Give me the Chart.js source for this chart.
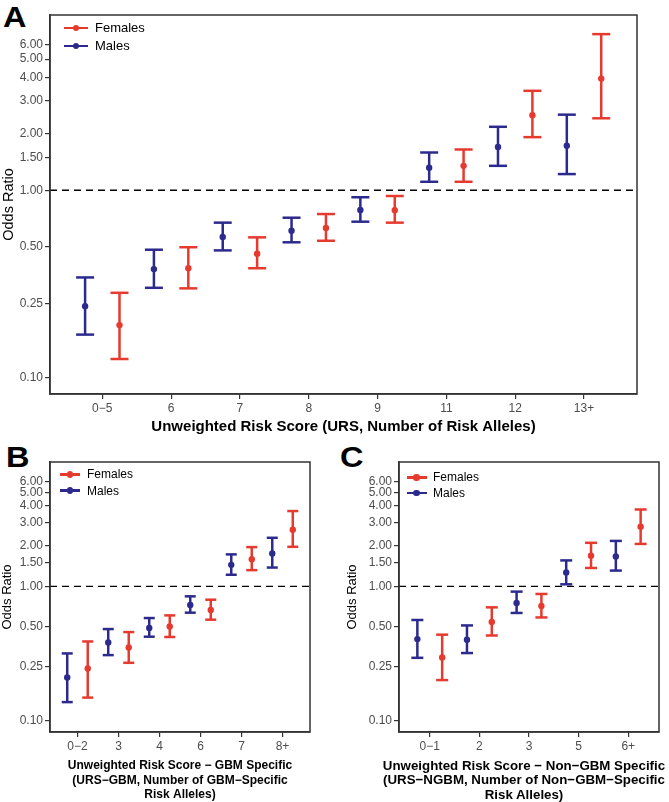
<!DOCTYPE html>
<html>
<head>
<meta charset="utf-8">
<script src="https://cdn.jsdelivr.net/npm/chart.js@4.4.1/dist/chart.umd.min.js"></script>
<style>
  body { margin: 0; background: #fff; font-family: "Liberation Sans", Arial, Helvetica, sans-serif; }
  #page { position: relative; width: 669px; height: 802px; overflow: hidden; }
  canvas { position: absolute; }
  .tag { position: absolute; font-weight: bold; font-size: 29px; line-height: 29px; color: #000;
         transform: scaleX(1.12); transform-origin: left top; }
  .key-line { position: absolute; height: 2.5px; }
  .key-dot { position: absolute; width: 6.5px; height: 6.5px; border-radius: 50%; }
  .key-text { position: absolute; color: #000; white-space: nowrap; }
  .xtitle { position: absolute; font-weight: bold; color: #000; text-align: center; white-space: nowrap; }
</style>
</head>
<body>
<div id="page">
  <div class="tag" style="left:3px; top:3px;">A</div>
  <div class="tag" style="left:6px; top:443px;">B</div>
  <div class="tag" style="left:340px; top:443px;">C</div>
  <canvas id="chartA" width="669" height="440" style="left:0; top:0;"></canvas>
  <canvas id="chartB" width="334" height="362" style="left:0; top:440px;"></canvas>
  <canvas id="chartC" width="324" height="362" style="left:345px; top:440px;"></canvas>
  <div class="xtitle" style="left:324px; width:400px; top:758.5px; font-size:13.3px; line-height:14.5px;">
    Unweighted Risk Score &#8722; Non&#8722;GBM Specific<br>(URS&#8722;NGBM, Number of Non&#8722;GBM&#8722;Specific<br>Risk Alleles)
  </div>
</div>
<script>
var seriesNames = ['Females', 'Males'];
var red = '#E63A2E';
var blue = '#2D2A8E';
var yTicks = [0.10, 0.25, 0.50, 1.00, 1.50, 2.00, 3.00, 4.00, 5.00, 6.00];

// panel A - URS
var catsA = ['0\u22125', '6', '7', '8', '9', '11', '12', '13+'];
var femA = [0.191, 0.384, 0.459, 0.629, 0.782, 1.35, 2.51, 3.94];
var femALo = [0.126, 0.300, 0.384, 0.538, 0.672, 1.11, 1.92, 2.42];
var femAHi = [0.284, 0.497, 0.561, 0.747, 0.932, 1.65, 3.39, 6.80];
var maleA = [0.241, 0.380, 0.563, 0.609, 0.785, 1.32, 1.70, 1.73];
var maleALo = [0.170, 0.302, 0.478, 0.528, 0.680, 1.11, 1.35, 1.22];
var maleAHi = [0.343, 0.482, 0.672, 0.714, 0.918, 1.59, 2.18, 2.53];

// panel B - URS-GBM
var catsB = ['0\u22122', '3', '4', '6', '7', '8+'];
var femB = [0.244, 0.350, 0.502, 0.666, 1.59, 2.64];
var femBLo = [0.148, 0.269, 0.419, 0.564, 1.32, 1.97];
var femBHi = [0.388, 0.456, 0.607, 0.795, 1.96, 3.64];
var maleB = [0.209, 0.381, 0.489, 0.726, 1.445, 1.76];
var maleBLo = [0.137, 0.307, 0.421, 0.636, 1.22, 1.38];
var maleBHi = [0.316, 0.480, 0.580, 0.842, 1.73, 2.30];

// panel C - URS-NGBM
var catsC = ['0\u22121', '2', '3', '5', '6+'];
var femC = [0.295, 0.542, 0.714, 1.69, 2.78];
var femCLo = [0.200, 0.430, 0.586, 1.37, 2.07];
var femCHi = [0.436, 0.697, 0.877, 2.11, 3.74];
var maleC = [0.404, 0.400, 0.751, 1.27, 1.67];
var maleCLo = [0.293, 0.318, 0.633, 1.035, 1.31];
var maleCHi = [0.561, 0.511, 0.913, 1.56, 2.18];

Chart.defaults.font.family = '"Liberation Sans", Arial, Helvetica, sans-serif';
Chart.defaults.animation = false;

var boxPlugin = {
    id: 'box',
    afterDraw: function(chart) {
        var a = chart.chartArea, ctx = chart.ctx;
        ctx.save();
        ctx.strokeStyle = '#333';
        ctx.lineWidth = 1.5;
        ctx.strokeRect(a.left, a.top, a.right - a.left, a.bottom - a.top);
        ctx.restore();
    }
};

// point + whisker + caps for one series
function errorSets(vals, lo, hi, shift, color, capR) {
    var xs = vals.map(function(v, i) { return i + shift; });
    var points = [], whisk = [], caps = [];
    for (var i = 0; i < xs.length; i++) {
        points.push({x: xs[i], y: vals[i]});
        whisk.push({x: xs[i], y: lo[i]}, {x: xs[i], y: hi[i]}, {x: xs[i], y: null});
        caps.push({x: xs[i], y: lo[i]}, {x: xs[i], y: hi[i]});
    }
    return [
        {data: points, showLine: false, pointRadius: 3.2, pointBackgroundColor: color, pointBorderWidth: 0},
        {data: caps, showLine: false, pointStyle: 'line', pointRadius: capR, pointBorderColor: color, pointBorderWidth: 2.5},
        {data: whisk, showLine: true, spanGaps: false, borderColor: color, borderWidth: 2.5, pointRadius: 0}
    ];
}

function makePanel(id, p) {
    var datasets = []
        .concat(errorSets(p.fem, p.femLo, p.femHi, 0.25, red, p.capR))
        .concat(errorSets(p.male, p.maleLo, p.maleHi, -0.25, blue, p.capR));
    datasets.push({
        data: [{x: p.xMin, y: 1}, {x: p.xMax, y: 1}],
        showLine: true, borderColor: '#000', borderWidth: 1.3, borderDash: [7, 5], pointRadius: 0
    });
    return new Chart(document.getElementById(id), {
        type: 'scatter',
        data: {datasets: datasets},
        plugins: [boxPlugin],
        options: {
            responsive: false,
            devicePixelRatio: 1,
            layout: {padding: p.pad},
            plugins: {legend: {display: false}, tooltip: {enabled: false}},
            scales: {
                x: {
                    type: 'linear', min: p.xMin, max: p.xMax,
                    afterBuildTicks: function(ax) {
                        ax.ticks = p.cats.map(function(c, i) { return {value: i}; });
                    },
                    afterFit: function(ax) { ax.height = p.axisH; },
                    ticks: {
                        callback: function(v) { return p.cats[v]; },
                        color: '#4d4d4d', font: {size: p.tickSize}, padding: 2,
                        maxRotation: 0, autoSkip: false
                    },
                    grid: {display: true, drawOnChartArea: false, drawTicks: true, tickLength: 5, color: '#333', lineWidth: 1.2},
                    border: {display: true, color: '#333', width: 1.5},
                    title: {
                        display: !!p.xTitle, text: p.xTitle || '', color: '#000',
                        font: {size: p.xTitleSize, weight: 'bold'},
                        padding: {top: 0, bottom: p.xTitlePad}
                    }
                },
                y: {
                    type: 'logarithmic', min: p.yMin, max: p.yMax,
                    afterBuildTicks: function(ax) {
                        ax.ticks = yTicks.map(function(v) { return {value: v}; });
                    },
                    afterFit: function(ax) { ax.width = p.axisW; },
                    ticks: {
                        callback: function(v) { return v.toFixed(2); },
                        color: '#4d4d4d', font: {size: p.tickSize}, padding: 2
                    },
                    grid: {display: true, drawOnChartArea: false, drawTicks: true, tickLength: 5, color: '#333', lineWidth: 1.2},
                    border: {display: true, color: '#333', width: 1.5},
                    title: {
                        display: true, text: 'Odds Ratio', color: '#000',
                        font: {size: p.yTitleSize}, padding: {top: 0, bottom: 0}
                    }
                }
            }
        }
    });
}

function addLegend(lineX, lineW, textX, rows, size) {
    var page = document.getElementById('page');
    var colors = [red, blue];
    var html = '';
    for (var i = 0; i < seriesNames.length; i++) {
        var y = rows[i];
        html += '<div class="key-line" style="left:' + lineX + 'px;top:' + (y - 1.25) + 'px;width:' + lineW + 'px;background:' + colors[i] + '"></div>';
        html += '<div class="key-dot" style="left:' + (lineX + lineW / 2 - 3.25) + 'px;top:' + (y - 3.25) + 'px;background:' + colors[i] + '"></div>';
        html += '<div class="key-text" style="left:' + textX + 'px;top:' + (y - size * 0.6) + 'px;font-size:' + size + 'px;line-height:' + (size * 1.2) + 'px">' + seriesNames[i] + '</div>';
    }
    page.insertAdjacentHTML('beforeend', html);
}

makePanel('chartA', {
    cats: catsA, fem: femA, femLo: femALo, femHi: femAHi, male: maleA, maleLo: maleALo, maleHi: maleAHi,
    xMin: -0.76, xMax: 7.77, yMin: 0.082, yMax: 8.6, capR: 9,
    pad: {top: 15, right: 32, left: 0, bottom: 0}, axisW: 50, axisH: 46,
    tickSize: 12, yTitleSize: 14.5, xTitleSize: 15, xTitlePad: 4,
    xTitle: 'Unweighted Risk Score (URS, Number of Risk Alleles)'
});

makePanel('chartB', {
    cats: catsB, fem: femB, femLo: femBLo, femHi: femBHi, male: maleB, maleLo: maleBLo, maleHi: maleBHi,
    xMin: -0.67, xMax: 5.67, yMin: 0.082, yMax: 8.45, capR: 5.5,
    pad: {top: 22, right: 24, left: 0, bottom: 0}, axisW: 50, axisH: 70,
    tickSize: 12, yTitleSize: 13, xTitleSize: 12, xTitlePad: 0,
    xTitle: ['Unweighted Risk Score \u2212 GBM Specific', '(URS\u2212GBM, Number of GBM\u2212Specific', 'Risk Alleles)']
});

// panel C title is wider than its plot, so it is set as page text above
makePanel('chartC', {
    cats: catsC, fem: femC, femLo: femCLo, femHi: femCHi, male: maleC, maleLo: maleCLo, maleHi: maleCHi,
    xMin: -0.62, xMax: 4.62, yMin: 0.082, yMax: 8.45, capR: 6,
    pad: {top: 22, right: 10, left: 0, bottom: 0}, axisW: 54, axisH: 70,
    tickSize: 12, yTitleSize: 13, xTitleSize: 13.3, xTitlePad: 0,
    xTitle: null
});

addLegend(64, 24, 95, [28, 46], 13);
addLegend(60, 20, 87, [474.3, 490.7], 12);
addLegend(406.7, 20, 433, [477.3, 493], 12);
</script>
</body>
</html>
